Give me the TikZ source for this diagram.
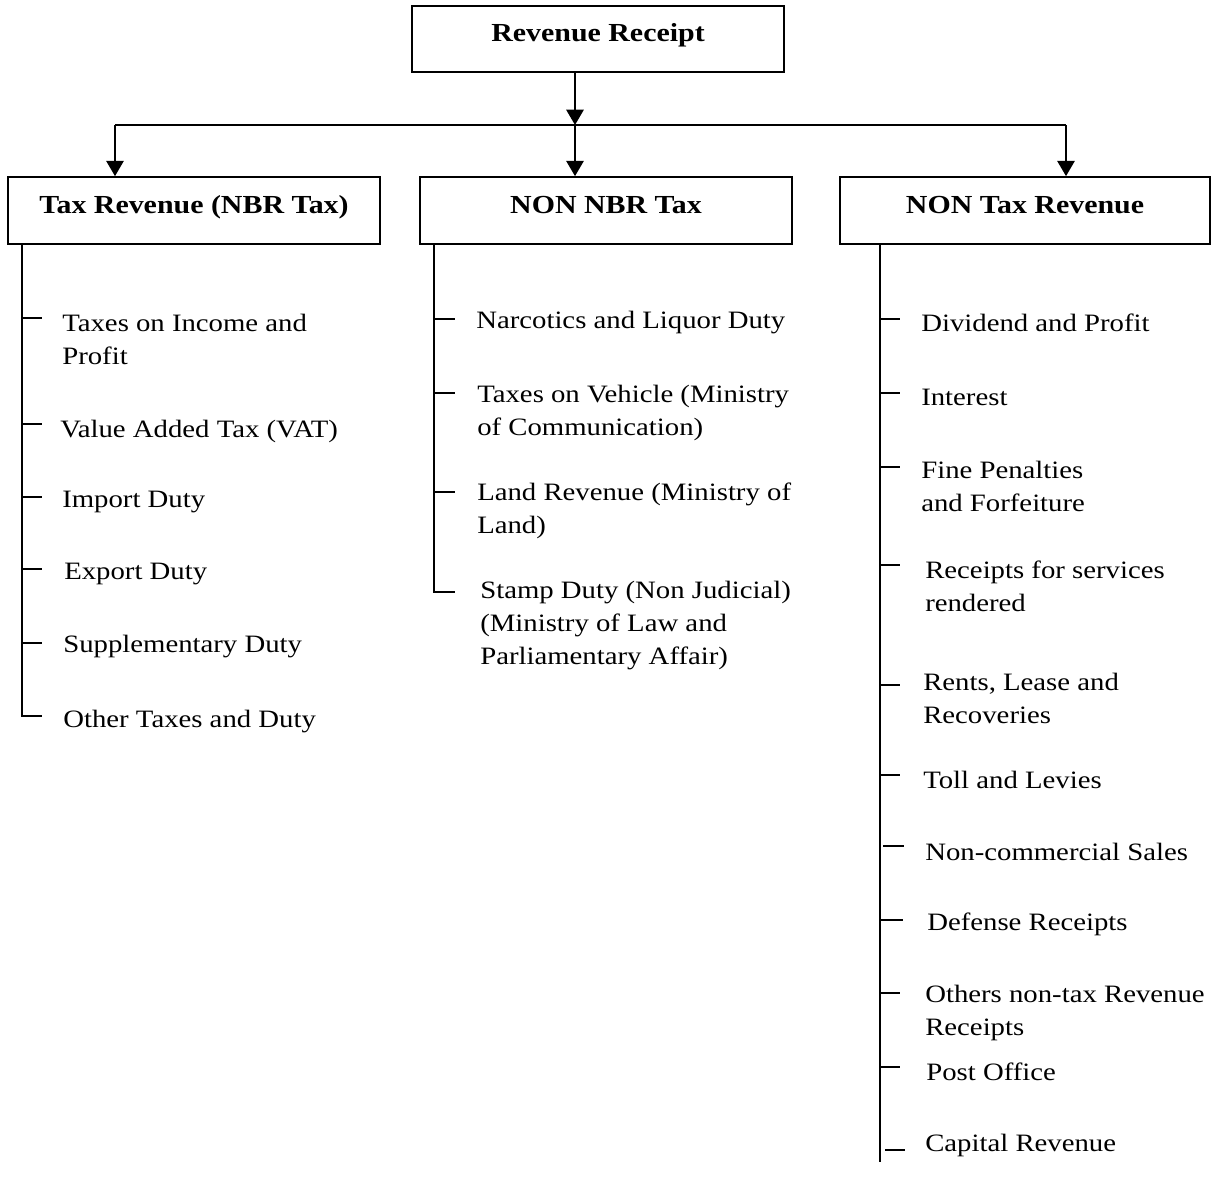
\documentclass[tikz,border=0pt]{standalone}
\usepackage{fontspec}
\setmainfont{Liberation Serif}[FakeStretch=1.15]
\usetikzlibrary{arrows.meta}
\begin{document}
\begin{tikzpicture}[x=0.75pt,y=-0.75pt,
  box/.style={draw, line width=1.5pt, minimum height=50pt, inner sep=0pt,
    text height=14pt, text depth=10pt, font=\bfseries\fontsize{19.5pt}{22pt}\selectfont},
  item/.style={anchor=west, align=left, inner sep=0pt, yshift=-2.25pt,
    font=\fontsize{18.75pt}{24.75pt}\selectfont},
  ln/.style={line width=1.5pt},
  arr/.style={line width=1.5pt, -{Triangle[width=13pt,length=11.5pt]}}]
\useasboundingbox (0,0) rectangle (1223,1188);

% boxes
\node[box, minimum width=279pt] (rr) at (598,39) {Revenue Receipt};
\node[box, minimum width=279pt] (tax) at (194,210.5) {Tax Revenue (NBR Tax)};
\node[box, minimum width=279pt] (nonnbr) at (606,210.5) {NON NBR Tax};
\node[box, minimum width=277.5pt] (nontax) at (1025,210.5) {NON Tax Revenue};

% hub connectors
\coordinate (hub) at (575,125);
\coordinate (hubL) at (115,125);
\coordinate (hubR) at (1066,125);
\draw[arr] (hub |- rr.south) -- (hub);
\draw[ln] (hubL) -- (hubR);
\draw[arr] (hub) -- (hub |- nonnbr.north);
\draw[arr] (hubL) -- (hubL |- tax.north);
\draw[arr] (hubR) -- (hubR |- nontax.north);

% left column
\coordinate (tL) at (22,244);
\coordinate (tLe) at (22,716);
\draw[ln] (tax.south -| tL) -- (tLe) -- (42,716);
\foreach \y in {318,424,497,569,643} \draw[ln] (22,\y) -- (42,\y);
\node[item] (l1) at (62,336) {Taxes on Income and\\Profit};
\node[item] (l2) at (60,428) {Value Added Tax (VAT)};
\node[item] (l3) at (62,499) {Import Duty};
\node[item] (l4) at (64,571) {Export Duty};
\node[item] (l5) at (63,644) {Supplementary Duty};
\node[item] (l6) at (63,719) {Other Taxes and Duty};

% middle column
\coordinate (tM) at (434,244);
\coordinate (tMe) at (434,592);
\draw[ln] (nonnbr.south -| tM) -- (tMe) -- (455,592);
\foreach \y in {319,393,492} \draw[ln] (434,\y) -- (455,\y);
\node[item] (m1) at (476,320) {Narcotics and Liquor Duty};
\node[item] (m2) at (477,410) {Taxes on Vehicle (Ministry\\of Communication)};
\node[item] (m3) at (477,508) {Land Revenue (Ministry of\\Land)};
\node[item] (m4) at (480,623) {Stamp Duty (Non Judicial)\\(Ministry of Law and\\Parliamentary Affair)};

% right column
\coordinate (tR) at (880,244);
\coordinate (tRe) at (880,1162);
\draw[ln] (nontax.south -| tR) -- (tRe);
\foreach \y in {319,393,467,565,685,775,993,1067} \draw[ln] (880,\y) -- (900,\y);
\draw[ln] (883,846) -- (904,846);
\draw[ln] (880,920) -- (903,920);
\draw[ln] (885,1150) -- (905,1150);
\node[item] (r1) at (921,320) {Dividend and Profit};
\node[item] (r2) at (921,394) {Interest};
\node[item] (r3) at (921,483) {Fine Penalties\\and Forfeiture};
\node[item] (r4) at (925,583) {Receipts for services\\rendered};
\node[item] (r5) at (923,695) {Rents, Lease and\\Recoveries};
\node[item] (r6) at (923,777) {Toll and Levies};
\node[item] (r7) at (925,849) {Non-commercial Sales};
\node[item] (r8) at (927,921) {Defense Receipts};
\node[item] (r9) at (925,1010) {Others non-tax Revenue\\Receipts};
\node[item] (r10) at (926,1069) {Post Office};
\node[item] (r11) at (925,1142) {Capital Revenue};
\end{tikzpicture}
\end{document}
